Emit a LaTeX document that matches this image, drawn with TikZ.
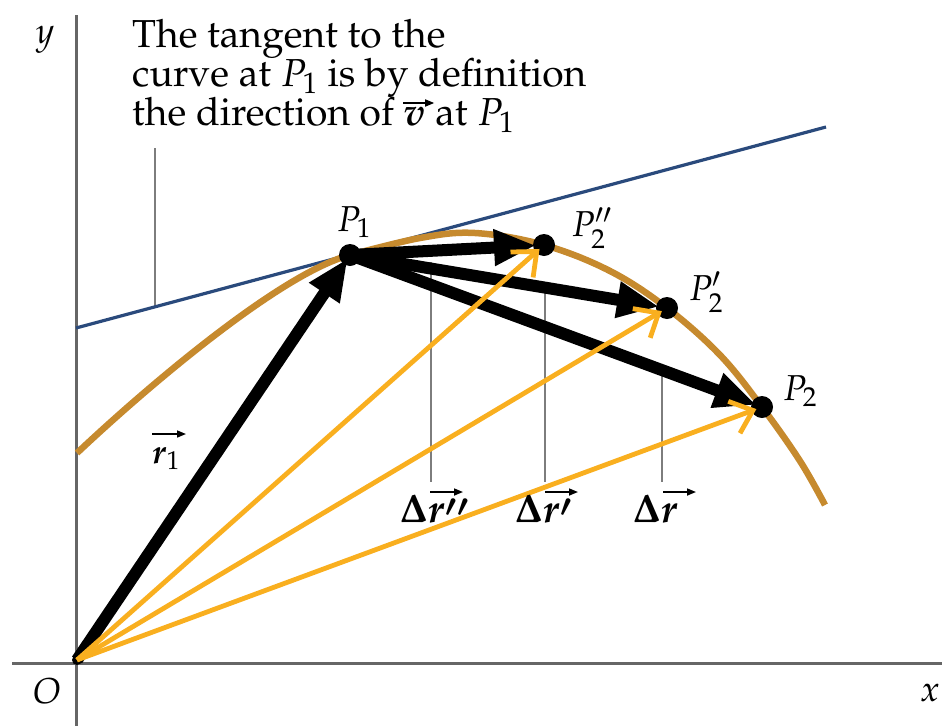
\documentclass[tikz,border=0pt]{standalone}
\usepackage[T1]{fontenc}
\usepackage{mathpazo}
\usepackage{amsmath}
\usetikzlibrary{arrows.meta}
\definecolor{curvebrown}{HTML}{C68A2E}
\definecolor{tanblue}{HTML}{2A4A7C}
\definecolor{vecorange}{HTML}{F9AF1F}
\definecolor{axisgray}{HTML}{666666}
\tikzset{
  axisline/.style={draw=axisgray, line width=3pt},
  thinline/.style={draw=axisgray!85, line width=1.4pt},
  curveline/.style={draw=curvebrown, line width=6.5pt},
  tanline/.style={draw=tanblue, line width=3.2pt},
  blackvec/.style={draw=black, line width=12pt, -{Triangle[length=42pt,width=34pt]}},
  orangevec/.style={draw=vecorange, line width=4.8pt, -{Straight Barb[length=20pt,width=34pt,line width=4.8pt]}},
  vecarr/.style={draw=black, line width=1.6pt, -{Triangle[length=9pt,width=7pt]}},
  pdot/.style={circle, fill=black, inner sep=0pt, minimum size=22pt},
  txt/.style={inner sep=0pt, anchor=base west, font=\fontsize{39}{39}\selectfont},
  plab/.style={inner sep=0pt, font=\fontsize{36}{42}\selectfont},
  dlab/.style={inner sep=0pt, font=\fontsize{40}{46}\selectfont},
}
\newcommand{\lowprimes}[1]{\raisebox{-0.22em}{$\boldsymbol{{}^{#1}}$}}
\begin{document}
\begin{tikzpicture}[x=1pt,y=-1pt]
\useasboundingbox (0,0) rectangle (942,726);
% axes
\coordinate (xa) at (12,663);
\coordinate (xb) at (942,663);
\coordinate (ya) at (76,15);
\coordinate (yb) at (76,726);
\draw[axisline] (xa) -- (xb);
\draw[axisline] (ya) -- (yb);
\node[plab] (ylab) at (45,40) {$y$};
\node[plab] (xlab) at (930,693) {$x$};
\node[plab] (olab) at (47,691) {$O$};
% points
\coordinate (O) at (77,660);
\coordinate (P1) at (350,255);
\coordinate (P2b) at (544,245);
\coordinate (P2a) at (667,308);
\coordinate (P2) at (762,407);
% tangent
\coordinate (T1) at (76,328);
\coordinate (T2) at (826,127);
\coordinate (L1) at (155,148);
\coordinate (L2) at (155,307);
\draw[thinline] (L1) -- (L2);
\draw[tanline] (T1) -- (T2);
% curve
\coordinate (C0) at (77,453);
\coordinate (C9) at (825,505);
\draw[curveline] (C0) .. controls (147,387) and (280,273.7) .. (P1);
\draw[curveline] plot[smooth, tension=0.6] coordinates
  {(350,255) (420,238) (475,233) (544,245) (610,271) (667,308) (720,355) (762,407) (800,461) (825,505)};
% thin verticals
\coordinate (d1a) at (431,262); \coordinate (d1b) at (431,482);
\coordinate (d2a) at (545,285); \coordinate (d2b) at (545,482);
\coordinate (d3a) at (662,365); \coordinate (d3b) at (662,482);
\draw[thinline] (d1a) -- (d1b);
\draw[thinline] (d2a) -- (d2b);
\draw[thinline] (d3a) -- (d3b);
% black vectors
\draw[blackvec, shorten >=4pt] (O) -- (P1);
\draw[blackvec, shorten >=8pt] (P1) -- (P2b);
\draw[blackvec, shorten >=8pt] (P1) -- (P2a);
\draw[blackvec, shorten >=6pt] (P1) -- (P2);
% dots
\node[pdot] (dP1) at (P1) {};
\node[pdot] (dP2b) at (P2b) {};
\node[pdot] (dP2a) at (P2a) {};
\node[pdot] (dP2) at (P2) {};
\node[circle, fill=black, inner sep=0pt, minimum size=10pt] (dO) at (O) {};
% orange vectors
\draw[orangevec, shorten >=6pt] (O) -- (P2b);
\draw[orangevec, shorten >=6pt] (O) -- (P2a);
\draw[orangevec, shorten >=6pt] (O) -- (P2);
% point labels
\node[plab] (lP1) at (354,222) {$P_1$};
\node[plab] (lP2b) at (592,228) {$P_2''$};
\node[plab] (lP2a) at (706,292) {$P_2'$};
\node[plab] (lP2) at (800,391) {$P_2$};
% r1 label
\node[plab, anchor=base west, font=\fontsize{34}{40}\selectfont] (lr1) at (152,463) {$\boldsymbol{r}_1$};
\draw[vecarr] ([yshift=29pt]lr1.base west) -- ++(34,0);
% Delta r labels
\node[dlab, anchor=base west] (r2) at (428,522) {$\boldsymbol{r}\lowprimes{\prime\prime}$};
\node[dlab, anchor=base east] (D2) at (r2.base west) {$\boldsymbol{\Delta}$};
\draw[vecarr] ([yshift=30pt,xshift=2pt]r2.base west) -- ++(33,0);
\node[dlab, anchor=base west] (r1) at (543,522) {$\boldsymbol{r}\lowprimes{\prime}$};
\node[dlab, anchor=base east] (D1) at (r1.base west) {$\boldsymbol{\Delta}$};
\draw[vecarr] ([yshift=30pt,xshift=2pt]r1.base west) -- ++(33,0);
\node[dlab, anchor=base west] (r0) at (661,522) {$\boldsymbol{r}$};
\node[dlab, anchor=base east] (D0) at (r0.base west) {$\boldsymbol{\Delta}$};
\draw[vecarr] ([yshift=30pt,xshift=2pt]r0.base west) -- ++(33,0);
% text
\node[txt] (t1) at (132,47) {The tangent to the};
\node[txt] (t2) at (132,86) {curve at $P_1$ is by definition};
\node[txt] (t3) at (132,125) {the direction of};
\node[txt] (t3v) at ([xshift=9pt]t3.base east) {$\boldsymbol{v}$};
\node[txt] (t3b) at ([xshift=9pt]t3v.base east) {at $P_1$};
\draw[vecarr] ([yshift=22pt]t3v.base west) -- ++(31,0);
\end{tikzpicture}
\end{document}
